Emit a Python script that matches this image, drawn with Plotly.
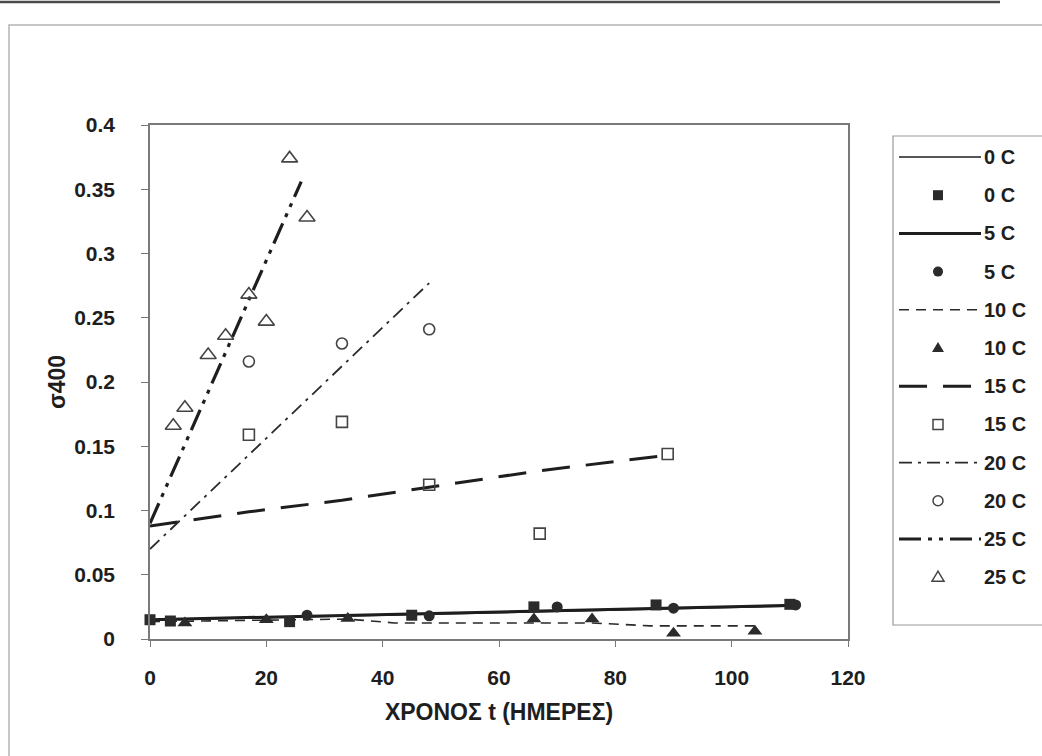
import plotly.graph_objects as go

# ---------------------------------------------------------------------------
# σ400 against storage time (days) at six storage temperatures
# ---------------------------------------------------------------------------
# measured points
t_0c = [0, 3.5, 24, 45, 66, 87, 110]
s_0c = [0.015, 0.014, 0.0135, 0.0185, 0.025, 0.0265, 0.027]

t_5c = [27, 48, 70, 90, 111]
s_5c = [0.0185, 0.018, 0.025, 0.024, 0.0265]

t_10c = [6, 20, 34, 66, 76, 90, 104]
s_10c = [0.0125, 0.015, 0.016, 0.0155, 0.0155, 0.0045, 0.006]

t_15c = [17, 33, 48, 67, 89]
s_15c = [0.159, 0.169, 0.120, 0.082, 0.144]

t_20c = [17, 33, 48]
s_20c = [0.216, 0.230, 0.241]

t_25c = [4, 6, 10, 13, 17, 20, 24, 27]
s_25c = [0.166, 0.180, 0.221, 0.236, 0.268, 0.247, 0.374, 0.328]

# fitted curves
fit_t_0c = [0, 110]
fit_s_0c = [0.0145, 0.0255]

fit_t_5c = [0, 111]
fit_s_5c = [0.0150, 0.0262]

fit_t_10c = [0, 20, 34, 42, 66, 76, 86, 104]
fit_s_10c = [0.0135, 0.0145, 0.0155, 0.0125, 0.0125, 0.0125, 0.0102, 0.0102]

fit_t_15c = [0, 17, 33, 48, 67, 89]
fit_s_15c = [0.088, 0.099, 0.108, 0.118, 0.131, 0.143]

fit_t_20c = [0, 48]
fit_s_20c = [0.070, 0.277]

fit_t_25c = [0, 26]
fit_s_25c = [0.090, 0.356]

legend_labels = ["0 C", "0 C", "5 C", "5 C", "10 C", "10 C",
                 "15 C", "15 C", "20 C", "20 C", "25 C", "25 C"]

x_ticks = [0, 20, 40, 60, 80, 100, 120]
y_ticks = [0, 0.05, 0.1, 0.15, 0.2, 0.25, 0.3, 0.35, 0.4]

# ---------------------------------------------------------------------------
INK = "#1e1e1e"
FONT = "Arial, 'Liberation Sans', sans-serif"
TICK_PX = 21
TITLE_PX = 23

line_styles = [
    dict(color=INK, width=1.5, dash="solid"),
    dict(color=INK, width=3, dash="solid"),
    dict(color="#2a2a2a", width=1.6, dash="10px,7px"),
    dict(color=INK, width=3, dash="28px,16px"),
    dict(color="#2a2a2a", width=1.8, dash="13px,6px,3px,6px"),
    dict(color=INK, width=3.2, dash="22px,7px,4px,7px,4px,7px"),
]

marker_styles = [
    dict(symbol="square", size=11, color="#2b2b2b"),
    dict(symbol="circle", size=11, color="#2b2b2b"),
    dict(symbol="triangle-up", size=13, color="#2b2b2b"),
    dict(symbol="square-open", size=11, color="#444", line=dict(width=1.6, color="#444")),
    dict(symbol="circle-open", size=11, color="#444", line=dict(width=1.6, color="#444")),
    dict(symbol="triangle-up-open", size=14, color="#444", line=dict(width=1.6, color="#444")),
]

fits = [(fit_t_0c, fit_s_0c), (fit_t_5c, fit_s_5c), (fit_t_10c, fit_s_10c),
        (fit_t_15c, fit_s_15c), (fit_t_20c, fit_s_20c), (fit_t_25c, fit_s_25c)]
points = [(t_0c, s_0c), (t_5c, s_5c), (t_10c, s_10c),
          (t_15c, s_15c), (t_20c, s_20c), (t_25c, s_25c)]

fig = go.Figure()
for i, (ft, fs) in enumerate(fits):
    fig.add_trace(go.Scatter(x=ft, y=fs, mode="lines", line=line_styles[i],
                             name=legend_labels[2 * i], showlegend=False,
                             hoverinfo="skip"))
for i, (pt, ps) in enumerate(points):
    fig.add_trace(go.Scatter(x=pt, y=ps, mode="markers", marker=marker_styles[i],
                             name=legend_labels[2 * i + 1], showlegend=False,
                             cliponaxis=False))

# ---------------------------------------------------------------------------
# page geometry (pixels) and conversion to paper coordinates
W, H = 1042, 756
PL, PR, PT, PB = 150, 848, 125, 639


def px(x):
    return (x - PL) / (PR - PL)


def py(y):
    return (PB - y) / (PB - PT)


shapes = []
annotations = []

# outer chart frame and the rule above it
shapes.append(dict(type="rect", xref="paper", yref="paper",
                   x0=px(9), x1=px(1100), y0=py(800), y1=py(25),
                   line=dict(color="#b4b4b4", width=1.5), layer="below"))
shapes.append(dict(type="line", xref="paper", yref="paper",
                   x0=px(0), x1=px(1000), y0=py(2), y1=py(2),
                   line=dict(color="#4a4a4a", width=2.5)))

# legend box
shapes.append(dict(type="rect", xref="paper", yref="paper",
                   x0=px(893), x1=px(1080), y0=py(625), y1=py(136),
                   line=dict(color="#9a9a9a", width=1.2), fillcolor="white"))

ROW0, ROW_STEP = 157, 38.2
for k, label in enumerate(legend_labels):
    yc = ROW0 + k * ROW_STEP
    s = k // 2
    if k % 2 == 0:
        ls = line_styles[s]
        shapes.append(dict(type="line", xref="paper", yref="paper",
                           x0=px(899), x1=px(981), y0=py(yc), y1=py(yc),
                           line=ls))
    else:
        ms = marker_styles[s]
        filled = not ms["symbol"].endswith("open")
        col = ms["color"]
        common = dict(xref="paper", yref="paper", xsizemode="pixel",
                      ysizemode="pixel", xanchor=px(938), yanchor=py(yc),
                      line=dict(color=col, width=0 if filled else 1.5),
                      fillcolor=col if filled else "rgba(0,0,0,0)")
        if ms["symbol"].startswith("square"):
            shapes.append(dict(type="rect", x0=-5, x1=5, y0=-5, y1=5, **common))
        elif ms["symbol"].startswith("circle"):
            shapes.append(dict(type="circle", x0=-5, x1=5, y0=-5, y1=5, **common))
        else:
            shapes.append(dict(type="path", path="M-6,-4 L6,-4 L0,6 Z", **common))
    annotations.append(dict(xref="paper", yref="paper", x=px(982), y=py(yc),
                            xanchor="left", yanchor="middle", text=label,
                            showarrow=False,
                            font=dict(family=FONT, size=20, color=INK,
                                      weight="bold")))

fig.update_layout(
    width=W, height=H,
    margin=dict(l=PL, r=W - PR, t=PT, b=H - PB),
    paper_bgcolor="white", plot_bgcolor="white",
    font=dict(family=FONT, size=TICK_PX, color=INK),
    showlegend=False,
    shapes=shapes, annotations=annotations,
    xaxis=dict(range=[0, 120], tickvals=x_ticks, ticks="outside", ticklen=6,
               tickwidth=1, tickcolor="#777", showline=True, linecolor="#7a7a7a",
               linewidth=1.5, mirror=True, showgrid=False, zeroline=False,
               tickfont=dict(size=TICK_PX, weight="bold", color=INK),
               ticklabelstandoff=13,
               title=dict(text="ΧΡΟΝΟΣ t (ΗΜΕΡΕΣ)", standoff=16,
                          font=dict(size=TITLE_PX, weight="bold", color=INK))),
    yaxis=dict(range=[0, 0.4], tickvals=y_ticks, ticks="outside", ticklen=7,
               tickwidth=1, tickcolor="#777", showline=True, linecolor="#7a7a7a",
               linewidth=1.5, mirror=True, showgrid=False, zeroline=False,
               tickfont=dict(size=TICK_PX, weight="bold", color=INK),
               ticklabelstandoff=22,
               title=dict(text="σ400", standoff=2,
                          font=dict(size=TITLE_PX, weight="bold", color=INK))),
)

fig.write_html("out.html")
